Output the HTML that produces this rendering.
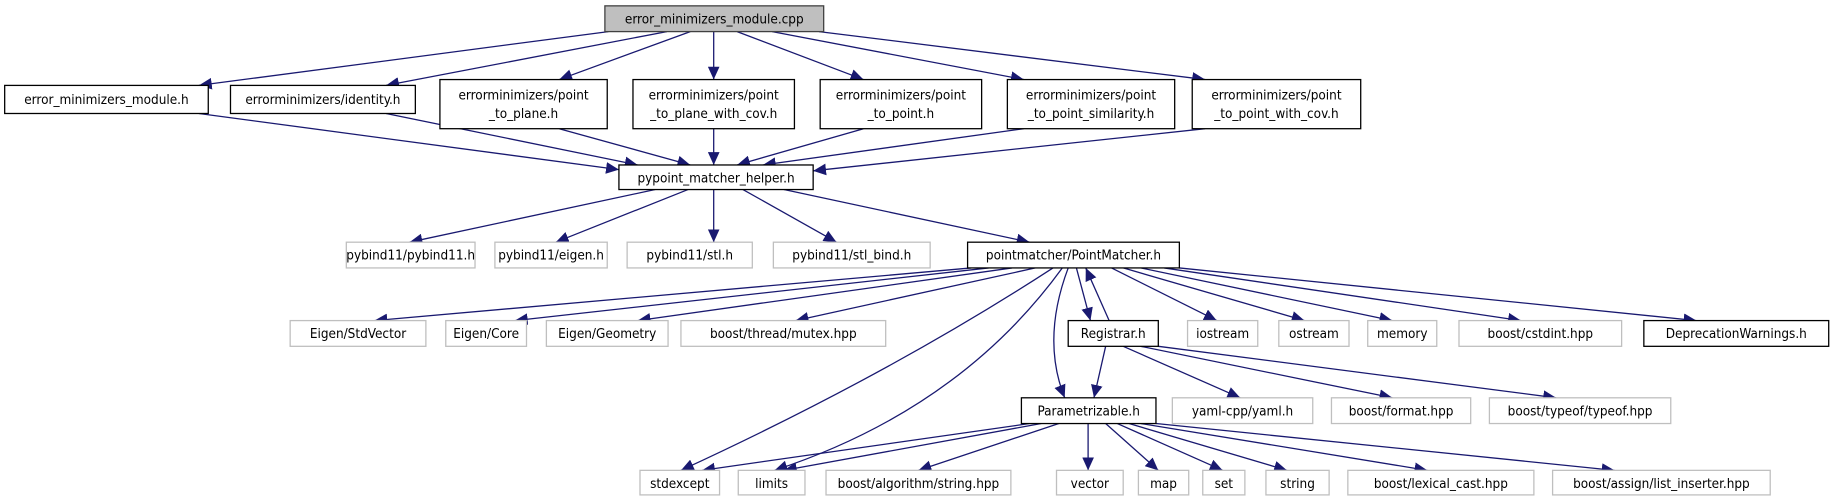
<!DOCTYPE html>
<html><head><meta charset="utf-8"><style>
html,body{margin:0;padding:0;background:#fff;}
svg{display:block;}
text{font-family:"DejaVu Sans Condensed","DejaVu Sans","Liberation Sans",sans-serif;font-size:11.5px;fill:#000;}
.b{fill:#fff;stroke:#000;stroke-width:1.1;}
.g{fill:#fff;stroke:#bfbfbf;stroke-width:1.1;}
.e{stroke:#191970;stroke-width:1.1;fill:none;marker-end:url(#a);}
</style></head><body>
<svg width="1833" height="500" viewBox="0 0 1833 500" xmlns="http://www.w3.org/2000/svg">
<defs><marker id="a" markerUnits="userSpaceOnUse" markerWidth="12" markerHeight="10" refX="11" refY="5" orient="auto"><path d="M0,0 L11,5 L0,10 z" fill="#191970"/></marker></defs>
<g transform="scale(1.17)">
<g>
<path class="e" d="M520,27 L170,73"/>
<path class="e" d="M570,27 L330,73"/>
<path class="e" d="M590,27 L478,68"/>
<path class="e" d="M610,27 L610,68"/>
<path class="e" d="M630,27 L738,68"/>
<path class="e" d="M660,27 L875,68"/>
<path class="e" d="M700,27 L1030,68"/>
<path class="e" d="M170,97 L529,145"/>
<path class="e" d="M330,97 L545,141"/>
<path class="e" d="M478,110 L590,141"/>
<path class="e" d="M610,110 L610,141"/>
<path class="e" d="M738,110 L630,141"/>
<path class="e" d="M875,110 L652,141"/>
<path class="e" d="M1030,110 L695,146"/>
<path class="e" d="M560,162 L350,207"/>
<path class="e" d="M588,162 L475,207"/>
<path class="e" d="M610,162 L610,207"/>
<path class="e" d="M635,162 L715,207"/>
<path class="e" d="M670,162 L880,207"/>
<path class="e" d="M830,229 L320,274"/>
<path class="e" d="M845,229 L440,274"/>
<path class="e" d="M865,229 L545,274"/>
<path class="e" d="M885,229 L680,274"/>
<path class="e" d="M900,229 Q760,320 582,402"/>
<path class="e" d="M908,229 Q820,350 662,402"/>
<path class="e" d="M913,229 Q890,290 910,340"/>
<path class="e" d="M920,229 L932,274"/>
<path class="e" d="M948,274 L928,229"/>
<path class="e" d="M950,229 L1040,274"/>
<path class="e" d="M960,229 L1115,274"/>
<path class="e" d="M975,229 L1190,274"/>
<path class="e" d="M995,229 L1300,274"/>
<path class="e" d="M1008,229 L1450,274"/>
<path class="e" d="M945,296 L935,340"/>
<path class="e" d="M960,296 L1060,340"/>
<path class="e" d="M975,296 L1190,340"/>
<path class="e" d="M990,296 L1330,340"/>
<path class="e" d="M880,362 L600,402"/>
<path class="e" d="M890,362 L670,402"/>
<path class="e" d="M905,362 L785,402"/>
<path class="e" d="M930,362 L930,402"/>
<path class="e" d="M945,362 L990,402"/>
<path class="e" d="M955,362 L1045,402"/>
<path class="e" d="M965,362 L1100,402"/>
<path class="e" d="M975,362 L1220,402"/>
<path class="e" d="M988,362 L1380,402"/>
</g>
<g text-anchor="middle">
<rect x="517" y="5" width="187" height="22" fill="#bfbfbf" stroke="#404040" stroke-width="1.1"/><text x="610.5" y="20">error_minimizers_module.cpp</text>
<rect class="b" x="4" y="73" width="174" height="24"/><text x="91" y="89">error_minimizers_module.h</text>
<rect class="b" x="197" y="73" width="158" height="24"/><text x="276" y="89">errorminimizers/identity.h</text>
<rect class="b" x="376" y="68" width="143" height="42"/><text x="447.5" y="85">errorminimizers/point</text><text x="447.5" y="101">_to_plane.h</text>
<rect class="b" x="541" y="68" width="138" height="42"/><text x="610" y="85">errorminimizers/point</text><text x="610" y="101">_to_plane_with_cov.h</text>
<rect class="b" x="701" y="68" width="138" height="42"/><text x="770" y="85">errorminimizers/point</text><text x="770" y="101">_to_point.h</text>
<rect class="b" x="861" y="68" width="143" height="42"/><text x="932.5" y="85">errorminimizers/point</text><text x="932.5" y="101">_to_point_similarity.h</text>
<rect class="b" x="1019" y="68" width="144" height="42"/><text x="1091" y="85">errorminimizers/point</text><text x="1091" y="101">_to_point_with_cov.h</text>
<rect class="b" x="529" y="141" width="166" height="21"/><text x="612" y="156">pypoint_matcher_helper.h</text>
<rect class="g" x="296" y="207" width="110" height="22"/><text x="351" y="222">pybind11/pybind11.h</text>
<rect class="g" x="423" y="207" width="96" height="22"/><text x="471" y="222">pybind11/eigen.h</text>
<rect class="g" x="536" y="207" width="107" height="22"/><text x="589.5" y="222">pybind11/stl.h</text>
<rect class="g" x="661" y="207" width="134" height="22"/><text x="728" y="222">pybind11/stl_bind.h</text>
<rect class="b" x="827" y="207" width="181" height="22"/><text x="917.5" y="222">pointmatcher/PointMatcher.h</text>
<rect class="g" x="248" y="274" width="116" height="22"/><text x="306" y="289">Eigen/StdVector</text>
<rect class="g" x="381" y="274" width="69" height="22"/><text x="415.5" y="289">Eigen/Core</text>
<rect class="g" x="467" y="274" width="104" height="22"/><text x="519" y="289">Eigen/Geometry</text>
<rect class="g" x="582" y="274" width="175" height="22"/><text x="669.5" y="289">boost/thread/mutex.hpp</text>
<rect class="b" x="913" y="274" width="77" height="22"/><text x="951.5" y="289">Registrar.h</text>
<rect class="g" x="1015" y="274" width="60" height="22"/><text x="1045" y="289">iostream</text>
<rect class="g" x="1093" y="274" width="60" height="22"/><text x="1123" y="289">ostream</text>
<rect class="g" x="1169" y="274" width="59" height="22"/><text x="1198.5" y="289">memory</text>
<rect class="g" x="1247" y="274" width="139" height="22"/><text x="1316.5" y="289">boost/cstdint.hpp</text>
<rect class="b" x="1405" y="274" width="158" height="22"/><text x="1484" y="289">DeprecationWarnings.h</text>
<rect class="b" x="873" y="340" width="115" height="22"/><text x="930.5" y="355">Parametrizable.h</text>
<rect class="g" x="1002" y="340" width="120" height="22"/><text x="1062" y="355">yaml-cpp/yaml.h</text>
<rect class="g" x="1138" y="340" width="119" height="22"/><text x="1197.5" y="355">boost/format.hpp</text>
<rect class="g" x="1273" y="340" width="155" height="22"/><text x="1350.5" y="355">boost/typeof/typeof.hpp</text>
<rect class="g" x="547" y="402" width="68" height="21"/><text x="581" y="417">stdexcept</text>
<rect class="g" x="631" y="402" width="57" height="21"/><text x="659.5" y="417">limits</text>
<rect class="g" x="706" y="402" width="158" height="21"/><text x="785" y="417">boost/algorithm/string.hpp</text>
<rect class="g" x="903" y="402" width="57" height="21"/><text x="931.5" y="417">vector</text>
<rect class="g" x="973" y="402" width="43" height="21"/><text x="994.5" y="417">map</text>
<rect class="g" x="1028" y="402" width="36" height="21"/><text x="1046" y="417">set</text>
<rect class="g" x="1082" y="402" width="54" height="21"/><text x="1109" y="417">string</text>
<rect class="g" x="1152" y="402" width="159" height="21"/><text x="1231.5" y="417">boost/lexical_cast.hpp</text>
<rect class="g" x="1327" y="402" width="186" height="21"/><text x="1420" y="417">boost/assign/list_inserter.hpp</text>
</g>
</g>
</svg>
</body></html>
